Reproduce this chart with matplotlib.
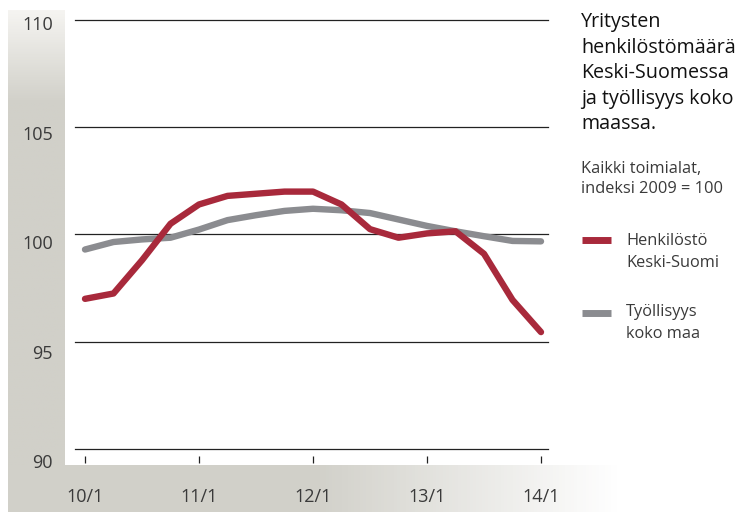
import numpy as np
import matplotlib.pyplot as plt
from matplotlib.colors import LinearSegmentedColormap
from matplotlib.transforms import ScaledTranslation

# quarterly index values, 2010Q1 .. 2014Q1 (2009 = 100)
quarters = np.arange(17)
henkilosto = [97.0, 97.25, 98.8, 100.5, 101.4, 101.8, 101.9, 102.0, 102.0,
              101.4, 100.25, 99.85, 100.05, 100.15, 99.1, 96.95, 95.45]
tyollisyys = [99.3, 99.65, 99.77, 99.85, 100.23, 100.67, 100.9, 101.1, 101.2,
              101.13, 101.0, 100.7, 100.4, 100.15, 99.92, 99.7, 99.68]
xtick_pos = [0, 4, 8, 12, 16]
xtick_labels = ["10/1", "11/1", "12/1", "13/1", "14/1"]
yticks = [90, 95, 100, 105, 110]

red = "#a8293b"
grey = "#8b8c90"
txt = "#3a3a3a"
plt.rcParams['font.family'] = ['Open Sans', 'DejaVu Sans']

W, H = 740, 515
fig = plt.figure(figsize=(W / 100, H / 100), dpi=100)

# background strips (pixel coordinates)
bg = fig.add_axes([0, 0, 1, 1], zorder=0)
bg.set_xlim(0, W)
bg.set_ylim(H, 0)
bg.axis("off")
strip = "#d1d0c9"
cm_v = LinearSegmentedColormap.from_list("v", ["#f5f4f1", strip, strip])
cm_h = LinearSegmentedColormap.from_list("h", [strip, strip, "#ffffff"])
bg.imshow(np.linspace(0, 1, 200).reshape(-1, 1), cmap=cm_v, aspect="auto",
          extent=(8, 65, 470, 10), vmin=0, vmax=0.4)
bg.imshow(np.linspace(0, 1, 200).reshape(1, -1), cmap=cm_h, aspect="auto",
          extent=(8, 620, 512, 465), vmin=0, vmax=1)

# main axes
x0, x1 = 75, 548
y0, y1 = 449, 20
ax = fig.add_axes([x0 / W, (H - y0) / H, (x1 - x0) / W, (y0 - y1) / H], zorder=1)
ax.patch.set_alpha(0)
ax.set_xlim(-10 / 28.5, 16 + 7 / 28.5)
ax.set_ylim(90, 110)

for y in yticks:
    ax.axhline(y, color="#222222", lw=0.9, zorder=1, clip_on=False)

ax.plot(quarters, tyollisyys, color=grey, lw=4.6, solid_capstyle="round",
        solid_joinstyle="round", zorder=3)
ax.plot(quarters, henkilosto, color=red, lw=4.6, solid_capstyle="round",
        solid_joinstyle="round", zorder=4)

for s in ["top", "right", "left"]:
    ax.spines[s].set_visible(False)
ax.spines["bottom"].set_position(("outward", 5))
ax.spines["bottom"].set_visible(False)

ax.set_xticks(xtick_pos)
ax.set_xticklabels(xtick_labels)
ax.set_yticks(yticks)
ax.set_yticklabels([str(v) for v in yticks])
ax.tick_params(axis="x", length=5, width=0.9, color="#222222", pad=18,
               labelsize=13, labelcolor=txt)
ax.tick_params(axis="y", length=0, pad=16, labelsize=13, labelcolor=txt)

# y labels sit a little below their gridlines
for lab, dy in zip(ax.get_yticklabels(), [12, 10, 8, 6, 3]):
    lab.set_transform(lab.get_transform() + ScaledTranslation(0, -dy / 100, fig.dpi_scale_trans))

# title and legend text on the right
fig.text(581 / W, 1 - 12 / H,
         "Yritysten\nhenkilöstömäärä\nKeski-Suomessa\nja työllisyys koko\nmaassa.",
         ha="left", va="top", fontsize=14.2, color="#111111", linespacing=1.37)
fig.text(581 / W, 1 - 161 / H, "Kaikki toimialat,\nindeksi 2009 = 100",
         ha="left", va="top", fontsize=11.8, color=txt, linespacing=1.3)

bg.plot([582, 611], [240, 240], color=red, lw=5, solid_capstyle="butt")
bg.plot([582, 611], [313, 313], color=grey, lw=5, solid_capstyle="butt")
fig.text(626 / W, 1 - 233 / H, "Henkilöstö\nKeski-Suomi", ha="left", va="top",
         fontsize=11.8, color=txt, linespacing=1.5)
fig.text(626 / W, 1 - 304 / H, "Työllisyys\nkoko maa", ha="left", va="top",
         fontsize=11.8, color=txt, linespacing=1.5)

fig.savefig("out.png", dpi=100)
